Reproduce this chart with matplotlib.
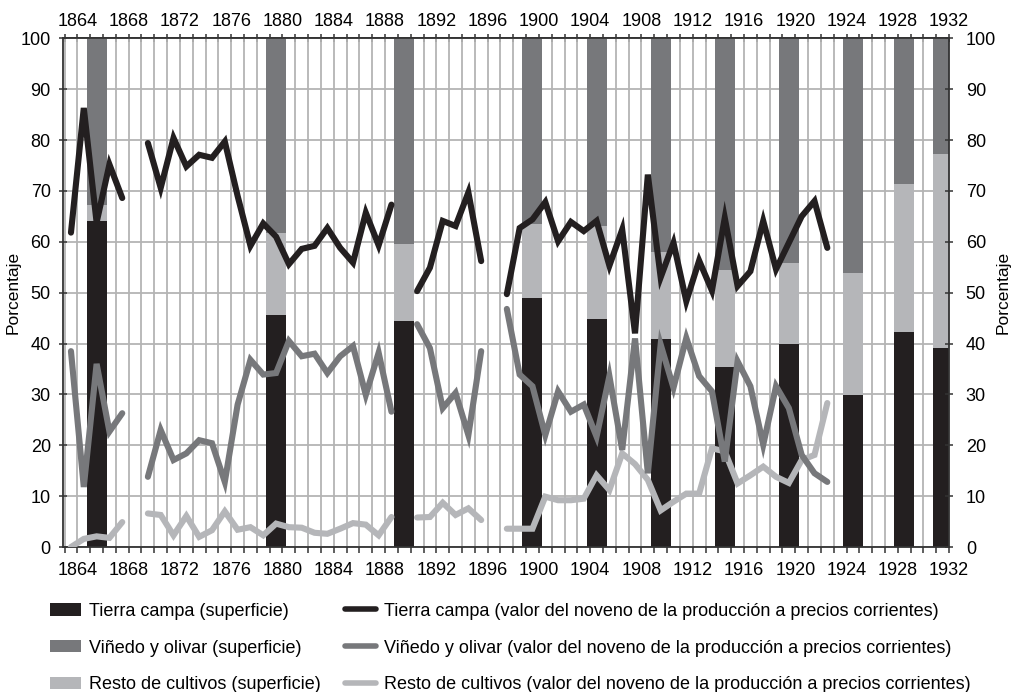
import numpy as np
import matplotlib
matplotlib.use("Agg")
import matplotlib.pyplot as plt
from matplotlib.patches import Patch
from matplotlib.lines import Line2D
from matplotlib.ticker import MultipleLocator

plt.rcParams['font.family'] = ['Liberation Sans', 'DejaVu Sans']

# --- datos: valor del noveno (años 1863-1922), NaN = sin dato ---
nan = np.nan
years = np.arange(1863, 1923)
tierra_valor = [61.8, 86.3, 63.8, 75.2, 68.6, nan, 79.4, 70.6, 80.4, 74.8,
                77.1, 76.5, 79.7, 69.0, 59.2, 63.6, 61.0, 55.6, 58.6, 59.2,
                62.7, 58.8, 55.9, 65.7, 59.3, 67.3, nan, 50.3, 54.9, 64.1,
                63.1, 69.7, 56.2, nan, 49.7, 62.7, 64.4, 67.8, 60.1, 63.9,
                62.1, 64.1, 55.3, 62.4, 42.0, 73.2, 53.0, 59.8, 48.3, 56.3,
                50.4, 64.7, 51.3, 54.2, 64.1, 54.6, 59.8, 65.0, 68.0, 58.8]
vinedo_valor = [38.5, 11.8, 36.0, 22.7, 26.3, nan, 13.8, 23.0, 17.1, 18.4,
                21.0, 20.4, 12.8, 28.0, 36.8, 33.9, 34.2, 40.5, 37.5, 38.0,
                34.2, 37.5, 39.5, 29.9, 38.2, 26.6, nan, 43.8, 39.1, 27.3,
                30.3, 22.0, 38.5, nan, 46.8, 33.9, 31.6, 22.0, 30.6, 26.6,
                28.0, 21.7, 33.6, 19.1, 41.0, 14.5, 39.8, 31.3, 41.1, 33.6,
                30.6, 16.8, 36.5, 31.6, 20.1, 31.6, 27.3, 18.1, 14.5, 12.8]
resto_valor = [0.0, 1.6, 2.1, 1.8, 4.9, nan, 6.6, 6.3, 2.3, 6.1,
               2.0, 3.3, 7.0, 3.4, 3.9, 2.3, 4.6, 3.9, 3.8, 2.8,
               2.6, 3.6, 4.7, 4.4, 2.3, 5.9, nan, 5.8, 5.9, 8.7,
               6.3, 7.6, 5.3, nan, 3.6, 3.6, 3.6, 9.9, 9.2, 9.2,
               9.5, 14.1, 11.2, 18.4, 16.3, 13.2, 7.2, 8.9, 10.5, 10.5,
               19.4, 18.8, 12.5, 14.1, 15.8, 13.8, 12.6, 17.1, 18.1, 28.3]

# --- datos: superficie (barras apiladas) ---
bar_years = [1865, 1879, 1889, 1899, 1904, 1909, 1914, 1919, 1924, 1928, 1931]
tierra_sup = np.array([64.1, 45.7, 44.4, 49.0, 44.9, 40.9, 35.3, 40.0, 29.8, 42.3, 39.1])
resto_sup = np.array([3.2, 16.1, 15.1, 14.4, 18.2, 17.1, 19.2, 15.8, 24.0, 29.1, 38.2])
vinedo_sup = 100 - tierra_sup - resto_sup

c_tierra = '#231f20'
c_vinedo = '#77787b'
c_resto = '#b5b6b9'
c_grid = '#b4b4b4'
c_axis = '#333333'

OFFSET = 0.5  # los valores se dibujan en el centro de cada año
x_line = years + OFFSET
x_bar = np.array(bar_years) + OFFSET

fig = plt.figure(figsize=(10.14, 6.92), dpi=100)
ax = fig.add_axes([0.0624, 0.2095, 0.8736, 0.7352])

# barras apiladas
bw = 1.56
ax.bar(x_bar, tierra_sup, width=bw, color=c_tierra, zorder=2)
ax.bar(x_bar, resto_sup, width=bw, bottom=tierra_sup, color=c_resto, zorder=2)
ax.bar(x_bar, vinedo_sup, width=bw, bottom=tierra_sup + resto_sup, color=c_vinedo, zorder=2)

# líneas
lw = 4.4
for vals, col in [(resto_valor, c_resto), (vinedo_valor, c_vinedo), (tierra_valor, c_tierra)]:
    ax.plot(x_line, vals, color=col, lw=lw, solid_capstyle='round',
            solid_joinstyle='miter', zorder=3)

ax.set_xlim(1862.9, 1932)
ax.set_ylim(0, 100)

ax.xaxis.set_major_locator(MultipleLocator(4))
ax.xaxis.set_minor_locator(MultipleLocator(1))
ax.yaxis.set_major_locator(MultipleLocator(10))

ax.set_axisbelow(True)
ax.grid(True, which='both', axis='x', color=c_grid, lw=1.3)
ax.grid(True, which='major', axis='y', color=c_grid, lw=1.3)

for s in ax.spines.values():
    s.set_color(c_axis)
    s.set_linewidth(1.3)

# eje secundario para la escala de la derecha
ax2 = ax.twinx()
ax2.set_ylim(0, 100)
ax2.yaxis.set_major_locator(MultipleLocator(10))
ax2.tick_params(axis='y', direction='inout', length=6, width=1.1, color=c_axis,
                labelsize=13, pad=9)
ax2.set_ylabel('Porcentaje', fontsize=12.5, labelpad=0)
for s in ax2.spines.values():
    s.set_visible(False)

ax.tick_params(axis='x', which='both', bottom=True, top=False, labeltop=False,
               direction='out', length=4, width=1.1, color=c_axis,
               labelsize=13, pad=7)
ax.tick_params(axis='y', which='both', left=True, right=False, labelleft=True,
               labelright=False, direction='inout', length=6, width=1.1,
               color=c_axis, labelsize=13, pad=6)
ax.set_ylabel('Porcentaje', fontsize=12.5, labelpad=0)

# años en la parte superior
top = ax.secondary_xaxis('top')
top.xaxis.set_major_locator(MultipleLocator(4))
top.xaxis.set_minor_locator(MultipleLocator(1))
top.tick_params(axis='x', which='both', direction='inout', length=6, width=1.1,
                color=c_axis, labelsize=13, pad=3)
top.spines['top'].set_color(c_axis)
top.spines['top'].set_linewidth(1.3)

# leyenda
handles = [
    Patch(facecolor=c_tierra, label='Tierra campa (superficie)'),
    Patch(facecolor=c_vinedo, label='Viñedo y olivar (superficie)'),
    Patch(facecolor=c_resto, label='Resto de cultivos (superficie)'),
    Line2D([], [], color=c_tierra, lw=4, solid_capstyle='round',
           label='Tierra campa (valor del noveno de la producción a precios corrientes)'),
    Line2D([], [], color=c_vinedo, lw=4, solid_capstyle='round',
           label='Viñedo y olivar (valor del noveno de la producción a precios corrientes)'),
    Line2D([], [], color=c_resto, lw=4, solid_capstyle='round',
           label='Resto de cultivos (valor del noveno de la producción a precios corrientes)'),
]
fig.legend(handles=handles, ncol=2, loc='upper left', bbox_to_anchor=(0.049, 0.129),
           frameon=False, fontsize=13, handlelength=1.72, handleheight=0.67,
           handletextpad=0.45, columnspacing=1.35, labelspacing=1.1, borderpad=0,
           borderaxespad=0)

plt.savefig('out.png', dpi=100)
